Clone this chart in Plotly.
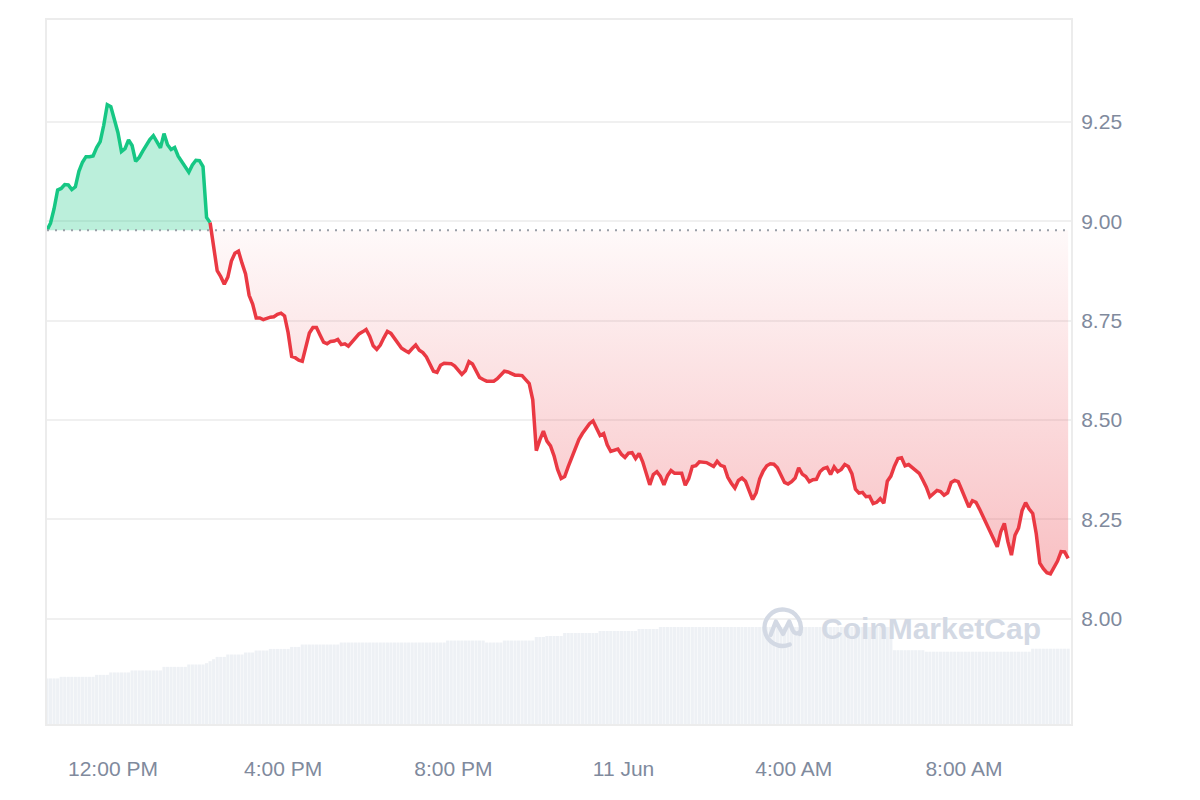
import base64
import pandas as pd
import plotly.graph_objects as go

# ---------------- data ----------------
start_time = "2024-06-10 10:27"
interval = "5min"

prices = [
    8.978, 8.996, 9.032, 9.079, 9.083, 9.093, 9.092, 9.080, 9.087, 9.126,
    9.149, 9.163, 9.163, 9.165, 9.186, 9.201, 9.242, 9.294, 9.289, 9.259,
    9.224, 9.176, 9.183, 9.205, 9.191, 9.151, 9.161, 9.177, 9.193, 9.206,
    9.216, 9.199, 9.185, 9.221, 9.193, 9.181, 9.186, 9.164, 9.151, 9.137,
    9.124, 9.142, 9.154, 9.153, 9.138, 9.010, 8.997, 8.932, 8.876, 8.861,
    8.842, 8.860, 8.900, 8.920, 8.925, 8.895, 8.868, 8.814, 8.792, 8.757,
    8.757, 8.753, 8.757, 8.759, 8.760, 8.766, 8.769, 8.762, 8.720, 8.660,
    8.657, 8.651, 8.648, 8.687, 8.719, 8.733, 8.733, 8.714, 8.696, 8.692,
    8.698, 8.699, 8.703, 8.690, 8.692, 8.686, 8.697, 8.708, 8.717, 8.722,
    8.728, 8.711, 8.687, 8.678, 8.689, 8.707, 8.723, 8.718, 8.706, 8.693,
    8.681, 8.675, 8.670, 8.680, 8.689, 8.676, 8.670, 8.659, 8.640, 8.623,
    8.620, 8.638, 8.643, 8.643, 8.642, 8.636, 8.627, 8.615, 8.624, 8.647,
    8.641, 8.625, 8.607, 8.602, 8.598, 8.598, 8.598, 8.604, 8.613, 8.623,
    8.621, 8.617, 8.613, 8.613, 8.612, 8.602, 8.592, 8.551, 8.423, 8.450,
    8.472, 8.447, 8.435, 8.410, 8.376, 8.353, 8.358, 8.383, 8.406, 8.430,
    8.451, 8.466, 8.477, 8.491, 8.498, 8.479, 8.461, 8.466, 8.438, 8.421,
    8.424, 8.427, 8.414, 8.406, 8.417, 8.418, 8.403, 8.416, 8.395, 8.366,
    8.337, 8.363, 8.370, 8.358, 8.337, 8.360, 8.373, 8.366, 8.367, 8.366,
    8.336, 8.353, 8.383, 8.385, 8.395, 8.393, 8.393, 8.388, 8.383, 8.396,
    8.386, 8.383, 8.356, 8.341, 8.329, 8.348, 8.354, 8.346, 8.322, 8.300,
    8.317, 8.352, 8.372, 8.385, 8.390, 8.389, 8.380, 8.360, 8.343, 8.339,
    8.345, 8.354, 8.380, 8.364, 8.358, 8.345, 8.350, 8.351, 8.370, 8.378,
    8.381, 8.363, 8.382, 8.370, 8.376, 8.388, 8.383, 8.365, 8.326, 8.316,
    8.318, 8.307, 8.308, 8.290, 8.293, 8.302, 8.291, 8.346, 8.359, 8.384,
    8.403, 8.405, 8.385, 8.388, 8.380, 8.374, 8.366, 8.349, 8.331, 8.307,
    8.314, 8.323, 8.320, 8.311, 8.317, 8.343, 8.348, 8.345, 8.324, 8.300,
    8.281, 8.297, 8.293, 8.276, 8.256, 8.238, 8.218, 8.197, 8.181, 8.219,
    8.240, 8.194, 8.160, 8.210, 8.228, 8.272, 8.292, 8.276, 8.265, 8.214,
    8.140, 8.126, 8.116, 8.113, 8.127, 8.145, 8.169, 8.168, 8.152,
]

volumes = [
    45.7, 45.7, 45.7, 45.7, 47.3, 47.3, 47.3, 47.3, 47.3, 47.3, 47.3, 47.3,
    47.3, 47.3, 49.3, 49.3, 49.3, 49.3, 51.7, 51.7, 51.7, 51.7, 51.7, 51.7,
    53.7, 53.7, 53.7, 53.7, 53.7, 53.7, 53.7, 53.7, 53.7, 57.3, 57.3, 57.3,
    57.3, 57.3, 57.3, 57.3, 59.7, 59.7, 59.7, 59.7, 59.7, 61.0, 63.0, 65.0,
    67.3, 67.3, 67.3, 69.7, 69.7, 69.7, 69.7, 69.7, 71.7, 71.7, 71.7, 73.7,
    73.7, 73.7, 73.7, 75.3, 75.3, 75.3, 75.3, 75.3, 75.3, 77.3, 77.3, 77.3,
    79.7, 79.7, 79.7, 79.7, 79.7, 79.7, 79.7, 79.7, 79.7, 79.7, 79.7, 81.7,
    81.7, 81.7, 81.7, 81.7, 81.7, 81.7, 81.7, 81.7, 81.7, 81.7, 81.7, 81.7,
    81.7, 81.7, 81.7, 81.7, 81.7, 81.7, 81.7, 81.7, 81.7, 81.7, 81.7, 81.7,
    81.7, 81.7, 81.7, 81.7, 81.7, 83.7, 83.7, 83.7, 83.7, 83.7, 83.7, 83.7,
    83.7, 83.7, 83.7, 83.7, 81.7, 81.7, 81.7, 81.7, 81.7, 83.7, 83.7, 83.7,
    83.7, 83.7, 83.7, 83.7, 83.7, 83.7, 87.3, 87.3, 87.3, 88.3, 88.3, 88.3,
    88.3, 88.3, 91.3, 91.3, 91.3, 91.3, 91.3, 91.3, 91.3, 91.3, 91.3, 91.3,
    93.3, 93.3, 93.3, 93.3, 93.3, 93.3, 93.3, 93.3, 93.3, 93.3, 93.3, 95.3,
    95.3, 95.3, 95.3, 95.3, 95.3, 97.3, 97.3, 97.3, 97.3, 97.3, 97.3, 97.3,
    97.3, 97.3, 97.3, 97.3, 97.3, 97.3, 97.3, 97.3, 97.3, 97.3, 97.3, 97.3,
    97.3, 97.3, 97.3, 97.3, 97.3, 97.3, 97.3, 97.3, 97.3, 97.3, 97.3, 97.3,
    97.3, 97.3, 97.3, 97.3, 97.3, 97.3, 97.3, 97.3, 97.3, 97.3, 97.3, 97.3,
    97.3, 97.3, 97.3, 97.3, 97.3, 97.3, 97.3, 97.3, 97.3, 97.3, 97.3, 97.3,
    97.3, 97.3, 97.3, 97.3, 97.3, 97.3, 97.3, 97.3, 97.3, 97.3, 97.3, 74.0,
    74.0, 74.0, 74.0, 74.0, 74.0, 74.0, 74.0, 74.0, 72.5, 72.5, 72.5, 72.5,
    72.5, 72.5, 72.5, 72.5, 72.5, 72.5, 72.5, 72.5, 72.5, 72.5, 72.5, 72.5,
    72.5, 72.5, 72.5, 72.5, 72.5, 72.5, 72.5, 72.5, 72.5, 72.5, 72.5, 72.5,
    72.5, 72.5, 75.5, 75.5, 75.5, 75.5, 75.5, 75.5, 75.5, 75.5, 75.5, 75.5,
    75.5,
]

tick_times = ["2024-06-10 12:00", "2024-06-10 16:00", "2024-06-10 20:00",
              "2024-06-11 00:00", "2024-06-11 04:00", "2024-06-11 08:00"]
tick_labels = ["12:00 PM", "4:00 PM", "8:00 PM", "11 Jun", "4:00 AM", "8:00 AM"]
price_ticks = [8.00, 8.25, 8.50, 8.75, 9.00, 9.25]
x_range = ["2024-06-10 10:27", "2024-06-11 10:31"]
y_range = [7.735, 9.507]

# ---------------- build ----------------
times = pd.date_range(start_time, periods=len(prices), freq=interval)
open_price = prices[0]
cross = 47  # first index below the opening price

GREEN = "#16c784"
RED = "#ea3943"
LABEL = "#808a9d"
WM = "#d3d9e4"

fig = go.Figure()

fig.add_trace(go.Bar(
    x=times, y=volumes, yaxis="y2",
    marker=dict(color="#eef1f5", line=dict(width=0)),
    hoverinfo="skip", showlegend=False,
))

g_x = times[:cross]
r_x = times[cross - 1:]

fig.add_trace(go.Scatter(
    x=g_x, y=[open_price] * len(g_x), mode="lines",
    line=dict(width=0, color="rgba(0,0,0,0)"), hoverinfo="skip", showlegend=False,
))
fig.add_trace(go.Scatter(
    x=g_x, y=prices[:cross], mode="lines",
    line=dict(color=GREEN, width=3.5), fill="tonexty",
    fillcolor="rgba(22,199,132,0.29)", showlegend=False,
))
fig.add_trace(go.Scatter(
    x=r_x, y=[open_price] * len(r_x), mode="lines",
    line=dict(width=0, color="rgba(0,0,0,0)"), hoverinfo="skip", showlegend=False,
))
red_prices = prices[cross - 1:]
fig.add_trace(go.Scatter(
    x=r_x, y=red_prices, mode="lines",
    line=dict(color=RED, width=3.5), fill="tonexty",
    fillgradient=dict(
        type="vertical",
        colorscale=[[0, "rgba(234,57,67,0.32)"], [1, "rgba(234,57,67,0.03)"]],
        start=min(red_prices), stop=open_price,
    ),
    showlegend=False,
))

fig.add_shape(type="line", xref="x", yref="y",
              x0=times[0], x1=times[-1], y0=open_price, y1=open_price,
              line=dict(color="#9a9fa8", width=2, dash="2px,6px"), layer="above")

# watermark
logo_svg = (
    "<svg xmlns='http://www.w3.org/2000/svg' viewBox='0 0 100 100'>"
    "<g fill='none' stroke='%s' stroke-width='9' stroke-linecap='round' stroke-linejoin='round'>"
    "<path d='M 85 64 A 38 38 0 1 0 64 86'/>"
    "<path d='M 24 66 L 35 38 L 50 64 L 63 38 L 70 56 Q 75 67 86 60'/>"
    "</g></svg>" % WM
)
logo_src = "data:image/svg+xml;base64," + base64.b64encode(logo_svg.encode()).decode()
fig.add_layout_image(dict(
    source=logo_src, xref="paper", yref="paper", x=0.7188, y=0.1374,
    sizex=0.047, sizey=0.068, xanchor="center", yanchor="middle",
    sizing="contain", layer="above",
))
fig.add_annotation(
    text="CoinMarketCap", xref="paper", yref="paper", x=0.8633, y=0.136,
    xanchor="center", yanchor="middle", showarrow=False,
    font=dict(family="Liberation Sans, Arial", size=30, color=WM, weight="bold"),
)

fig.update_layout(
    width=1184, height=784,
    margin=dict(l=39, r=121, t=10, b=68),
    paper_bgcolor="white", plot_bgcolor="white",
    showlegend=False, bargap=0.12,
    font=dict(family="Liberation Sans, Arial", size=21, color=LABEL),
    xaxis=dict(
        type="date", range=x_range, tickvals=tick_times, ticktext=tick_labels,
        showgrid=False, zeroline=False, showline=True, mirror=True,
        linecolor="#ececec", linewidth=2, ticks="",
        tickfont=dict(size=21, color=LABEL), ticklabelstandoff=25,
    ),
    yaxis=dict(
        side="right", range=y_range, tickvals=price_ticks,
        ticktext=["%.2f" % v for v in price_ticks],
        showgrid=True, gridcolor="#f0f0f0", gridwidth=2, zeroline=False,
        showline=True, mirror=True, linecolor="#ececec", linewidth=2, ticks="",
        tickfont=dict(size=21, color=LABEL), ticklabelstandoff=4,
    ),
    yaxis2=dict(overlaying="y", range=[0, 706], visible=False, fixedrange=True),
)

fig.write_html("out.html")
